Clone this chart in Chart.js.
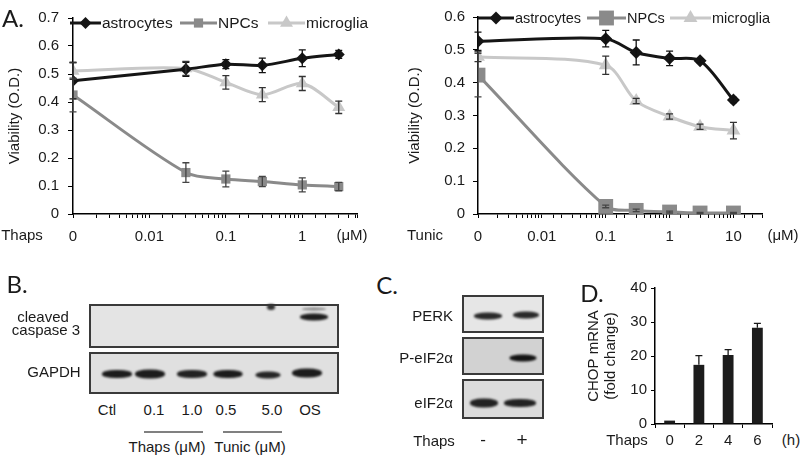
<!DOCTYPE html>
<html>
<head>
<meta charset="utf-8">
<script src="https://cdn.jsdelivr.net/npm/chart.js@4.4.1/dist/chart.umd.min.js"></script>
<style>
body { margin: 0; background: #fff; }
#fig { position: relative; width: 800px; height: 463px; overflow: hidden; font-family: 'Liberation Sans', Arial, sans-serif; color: #1a1a1a; }
canvas { position: absolute; }
.t { position: absolute; font-size: 15px; line-height: 18px; white-space: nowrap; transform: translate(-50%, -50%); }
.r { position: absolute; font-size: 15px; line-height: 18px; white-space: nowrap; transform: translate(-100%, -50%); }
.panel { position: absolute; font-family: Lato, 'Open Sans', sans-serif; font-size: 24px; line-height: 26px; transform: translate(-50%, -50%); }
.box { position: absolute; border: 2px solid #3a3a3a; box-sizing: border-box; }
.band { position: absolute; background: #1c1c1c; border-radius: 45%; filter: blur(0.8px); transform: translate(-50%, -50%); }
.rule { position: absolute; height: 1.5px; background: #808080; }
</style>
</head>
<body>
<div id="fig">
  <canvas id="thaps" width="372" height="250" style="left:0;top:0"></canvas>
  <canvas id="tunic" width="400" height="250" style="left:400px;top:0"></canvas>
  <canvas id="chop" width="200" height="185" style="left:580px;top:275px"></canvas>

  <div class="panel" style="left:13px;top:18px">A.</div>
  <div class="panel" style="left:17px;top:284px">B.</div>
  <div class="panel" style="left:387px;top:285px">C.</div>
  <div class="panel" style="left:592px;top:293px">D.</div>

  <div class="t" style="left:22px;top:235px">Thaps</div>
  <div class="t" style="left:352px;top:235px">(μM)</div>
  <div class="t" style="left:425px;top:235px">Tunic</div>
  <div class="t" style="left:783px;top:235px">(μM)</div>

  <div class="t" style="left:43px;top:317px">cleaved</div>
  <div class="t" style="left:46px;top:330px">caspase 3</div>
  <div class="t" style="left:54px;top:372px">GAPDH</div>
  <div class="t" style="left:107px;top:410px">Ctl</div>
  <div class="t" style="left:154px;top:410px">0.1</div>
  <div class="t" style="left:192px;top:410px">1.0</div>
  <div class="t" style="left:226px;top:410px">0.5</div>
  <div class="t" style="left:272px;top:410px">5.0</div>
  <div class="t" style="left:310px;top:410px">OS</div>
  <div class="rule" style="left:144px;top:431px;width:59px"></div>
  <div class="rule" style="left:223px;top:431px;width:59px"></div>
  <div class="t" style="left:167px;top:447px">Thaps (μM)</div>
  <div class="t" style="left:250px;top:447px">Tunic (μM)</div>

  <div class="r" style="left:453px;top:316px">PERK</div>
  <div class="r" style="left:453px;top:358px">P-eIF2α</div>
  <div class="r" style="left:453px;top:403px">eIF2α</div>
  <div class="t" style="left:434px;top:441px">Thaps</div>
  <div class="t" style="left:483px;top:440px;font-size:17px">-</div>
  <div class="t" style="left:522px;top:440px;font-size:19px">+</div>

  <div class="t" style="left:627px;top:440px">Thaps</div>
  <div class="t" style="left:791px;top:440px">(h)</div>
</div>

<script>
// A. viability, thapsigargin (0 is drawn at 0.001 on the log axis)
const thapsDose = [0.001, 0.03, 0.1, 0.3, 1, 3];
const thapsAstro = [0.476, 0.517, 0.535, 0.531, 0.556, 0.570];
const thapsAstroErr = [0.065, 0.025, 0.016, 0.026, 0.03, 0.014];
const thapsNPC = [0.425, 0.148, 0.125, 0.116, 0.104, 0.098];
const thapsNPCErr = [0.06, 0.035, 0.028, 0.018, 0.025, 0.015];
const thapsMicro = [0.511, 0.52, 0.47, 0.426, 0.466, 0.381];
const thapsMicroErr = [0.03, 0.025, 0.024, 0.025, 0.025, 0.022];

// A. viability, tunicamycin
const tunicDose = [0.001, 0.1, 0.3, 1, 3, 10];
const tunicAstro = [0.526, 0.534, 0.492, 0.474, 0.467, 0.347];
const tunicAstroErr = [0.028, 0.025, 0.038, 0.022, 0.006, 0.008];
const tunicNPC = [0.423, 0.023, 0.011, 0.006, 0.003, 0.003];
const tunicNPCErr = [0.066, 0.004, 0.004, 0.003, 0.002, 0.002];
const tunicMicro = [0.479, 0.453, 0.344, 0.297, 0.266, 0.254];
const tunicMicroErr = [0.015, 0.028, 0.008, 0.008, 0.008, 0.025];

// D. CHOP mRNA
const chopTime = ['0', '2', '4', '6'];
const chopFold = [1.0, 17.4, 20.3, 28.3];
const chopErr = [0, 2.7, 1.6, 1.3];

Chart.defaults.font.family = "'Liberation Sans', Arial, sans-serif";
Chart.defaults.font.size = 15;
Chart.defaults.color = '#1a1a1a';

const ASTRO = '#151515', NPC = '#8a8a8a', MICRO = '#c8c8c8';

function drawMarker(ctx, style, x, y, r, color) {
	ctx.fillStyle = color;
	ctx.beginPath();
	if (style === 'rectRot') {
		ctx.moveTo(x, y - r); ctx.lineTo(x + r, y); ctx.lineTo(x, y + r); ctx.lineTo(x - r, y);
	} else if (style === 'rect') {
		const s = r * Math.SQRT1_2;
		ctx.rect(x - s, y - s, 2 * s, 2 * s);
	} else {
		for (let k = 0; k < 3; k++) {
			const a = k * 2 * Math.PI / 3;
			ctx.lineTo(x + Math.sin(a) * r, y - Math.cos(a) * r);
		}
	}
	ctx.closePath();
	ctx.fill();
}

const errorBars = {
	id: 'errorBars',
	afterDatasetsDraw(chart) {
		const ctx = chart.ctx;
		const ys = chart.scales.y;
		chart.data.datasets.forEach((ds, i) => {
			if (!ds.errors) return;
			const meta = chart.getDatasetMeta(i);
			ctx.save();
			ctx.strokeStyle = ds.errorColor;
			ctx.lineWidth = 1.3;
			meta.data.forEach((el, j) => {
				const e = ds.errors[j];
				if (!e) return;
				const v = typeof ds.data[j] === 'object' ? ds.data[j].y : ds.data[j];
				const top = ys.getPixelForValue(v + e);
				const bot = ys.getPixelForValue(ds.upOnly ? v : v - e);
				const w = 3.5;
				ctx.beginPath();
				ctx.moveTo(el.x, top); ctx.lineTo(el.x, bot);
				ctx.moveTo(el.x - w, top); ctx.lineTo(el.x + w, top);
				if (!ds.upOnly) { ctx.moveTo(el.x - w, bot); ctx.lineTo(el.x + w, bot); }
				ctx.stroke();
			});
			ctx.restore();
		});
	}
};

const lineLegend = {
	id: 'lineLegend',
	afterDraw(chart, args, opts) {
		if (!opts.items) return;
		const ctx = chart.ctx;
		const dsets = chart.data.datasets;
		ctx.save();
		ctx.font = opts.size + "px 'Liberation Sans', Arial, sans-serif";
		ctx.textBaseline = 'middle';
		opts.items.forEach((it, i) => {
			const ds = dsets[i];
			ctx.strokeStyle = ds.borderColor;
			ctx.lineWidth = 3;
			ctx.beginPath();
			ctx.moveTo(it[0], opts.y); ctx.lineTo(it[1], opts.y);
			ctx.stroke();
			drawMarker(ctx, ds.pointStyle, (it[0] + it[1]) / 2, opts.y, ds.pointRadius, ds.borderColor);
			ctx.fillStyle = '#1a1a1a';
			ctx.fillText(ds.label, it[1] + 1, opts.y + 1);
		});
		ctx.restore();
	}
};

function logLabel(v) {
	const e = Math.log10(v);
	const n = Math.round(e);
	if (Math.abs(e - n) > 1e-6) return '';
	if (n === -3) return '0';
	return String(Math.pow(10, n));
}

function viability(id, dose, series, o) {
	return new Chart(document.getElementById(id), {
		type: 'line',
		data: {
			datasets: series.map(s => ({
				label: s.label,
				data: dose.map((x, i) => ({ x, y: s.values[i] })),
				errors: s.errors,
				errorColor: s.errColor,
				borderColor: s.color,
				backgroundColor: s.color,
				borderWidth: 3,
				pointStyle: s.style,
				pointRadius: s.radius,
				pointBorderWidth: 0,
				tension: 0.3
			}))
		},
		options: {
			responsive: false,
			animation: false,
			events: [],
			layout: { padding: { top: o.top, right: o.right, left: 0, bottom: 0 } },
			plugins: {
				legend: { display: false },
				tooltip: { enabled: false },
				lineLegend: { y: o.legendY, size: o.legendSize, items: o.legend }
			},
			scales: {
				x: {
					type: 'logarithmic',
					min: 0.001,
					max: o.xMax,
					afterFit: s => { s.height = 36; },
					grid: { drawOnChartArea: false, color: '#000', tickLength: 4 },
					border: { color: '#000', width: 1.5 },
					ticks: { autoSkip: false, maxRotation: 0, padding: 10, callback: logLabel }
				},
				y: {
					min: 0,
					max: o.yMax,
					afterFit: s => { s.width = o.yWidth; },
					grid: { drawOnChartArea: false, color: '#000', tickLength: 5 },
					border: { color: '#000', width: 1.5 },
					ticks: { stepSize: 0.1, padding: o.tickPad, callback: v => v === 0 ? '0' : v.toFixed(1) },
					title: { display: true, text: 'Viability (O.D.)', padding: { top: 6, bottom: 0 } }
				}
			}
		},
		plugins: [errorBars, lineLegend]
	});
}

viability('thaps', thapsDose, [
	{ label: 'astrocytes', values: thapsAstro, errors: thapsAstroErr, color: ASTRO, errColor: '#111', style: 'rectRot', radius: 6 },
	{ label: 'NPCs', values: thapsNPC, errors: thapsNPCErr, color: NPC, errColor: '#444', style: 'rect', radius: 6.5 },
	{ label: 'microglia', values: thapsMicro, errors: thapsMicroErr, color: MICRO, errColor: '#333', style: 'triangle', radius: 7.5 }
], {
	top: 17, right: 15, yWidth: 73, tickPad: 9, xMax: 5.2, yMax: 0.7,
	legendY: 23, legendSize: 15.5,
	legend: [[70, 101], [180, 217], [268, 305]]
});

viability('tunic', tunicDose, [
	{ label: 'astrocytes', values: tunicAstro, errors: tunicAstroErr, color: ASTRO, errColor: '#111', style: 'rectRot', radius: 6.5 },
	{ label: 'NPCs', values: tunicNPC, errors: tunicNPCErr, color: NPC, errColor: '#444', style: 'rect', radius: 10.5 },
	{ label: 'microglia', values: tunicMicro, errors: tunicMicroErr, color: MICRO, errColor: '#333', style: 'triangle', radius: 8 }
], {
	top: 17, right: 38, yWidth: 78, tickPad: 8, xMax: 28, yMax: 0.6,
	legendY: 18, legendSize: 14.5,
	legend: [[78, 114], [187, 226], [270, 311]]
});

new Chart(document.getElementById('chop'), {
	type: 'bar',
	data: {
		labels: chopTime,
		datasets: [{
			data: chopFold,
			errors: chopErr,
			errorColor: '#1a1a1a',
			upOnly: true,
			backgroundColor: '#1c1c1c',
			categoryPercentage: 1,
			barPercentage: 0.37
		}]
	},
	options: {
		responsive: false,
		animation: false,
		events: [],
		layout: { padding: { top: 10, right: 8, left: 0, bottom: 0 } },
		plugins: { legend: { display: false }, tooltip: { enabled: false } },
		scales: {
			x: {
				afterFit: s => { s.height = 36; },
				grid: { drawOnChartArea: false, color: '#000', tickLength: 4, offset: true },
				border: { color: '#000', width: 1.5 },
				ticks: { padding: 4 }
			},
			y: {
				min: 0,
				max: 40,
				afterFit: s => { s.width = 75; },
				grid: { drawOnChartArea: false, color: '#000', tickLength: 4 },
				border: { color: '#000', width: 1.5 },
				ticks: { stepSize: 10, padding: 4 },
				title: { display: true, text: ['CHOP mRNA', '(fold change)'], padding: { top: 6, bottom: 0 }, font: { lineHeight: 1.1 } }
			}
		}
	},
	plugins: [errorBars]
});

// western blot panels (B, C): boxes and bands, drawn as plain elements
const blotBoxes = [
	[89, 304, 250, 44, '#e4e4e4'],
	[89, 352, 250, 42, '#e0e0e0'],
	[462, 295, 82, 38, '#e6e6e6'],
	[462, 337, 82, 38, '#d2d2d2'],
	[462, 379, 82, 40, '#dcdcdc']
];
const blotBands = [
	// x, y, width, height, colour
	[117, 374, 30, 8, '#1c1c1c'], [150, 374, 30, 9, '#1c1c1c'], [192, 374, 30, 8, '#222'],
	[228, 374, 29, 8, '#1c1c1c'], [268, 375, 25, 7, '#262626'], [307, 373, 30, 9, '#1c1c1c'],
	[314, 317, 28, 7, '#1e1e1e'], [314, 309, 24, 3, '#8a8a8a'], [271, 307, 8, 6, '#333'],
	[488, 316, 28, 7, '#2a2a2a'], [526, 315, 26, 7, '#2a2a2a'],
	[523, 358, 27, 7, '#141414'],
	[484, 403, 28, 9, '#222'], [520, 403, 32, 8, '#222']
];
const fig = document.getElementById('fig');
blotBoxes.forEach(b => {
	const d = document.createElement('div');
	d.className = 'box';
	d.style.cssText = `left:${b[0]}px;top:${b[1]}px;width:${b[2]}px;height:${b[3]}px;background:${b[4]}`;
	fig.appendChild(d);
});
blotBands.forEach(b => {
	const d = document.createElement('div');
	d.className = 'band';
	d.style.cssText = `left:${b[0]}px;top:${b[1]}px;width:${b[2]}px;height:${b[3]}px;background:${b[4]}`;
	fig.appendChild(d);
});
</script>
</body>
</html>
